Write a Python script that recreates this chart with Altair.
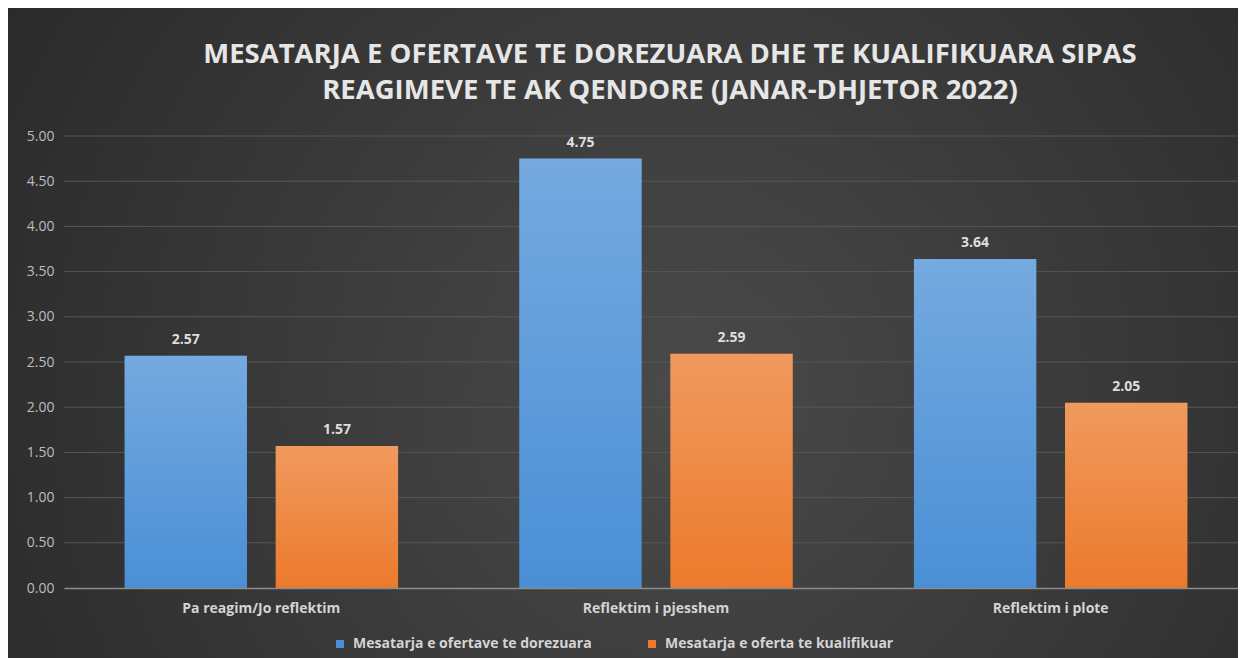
import altair as alt
import pandas as pd

# ---- data ----
categories = ["Pa reagim/Jo reflektim", "Reflektim i pjesshem", "Reflektim i plote"]
series_names = ["Mesatarja e ofertave te dorezuara", "Mesatarja e oferta te kualifikuar"]
submitted = [2.57, 4.75, 3.64]
qualified = [1.57, 2.59, 2.05]
y_ticks = [0.0, 0.5, 1.0, 1.5, 2.0, 2.5, 3.0, 3.5, 4.0, 4.5, 5.0]
title_lines = [
    "MESATARJA E OFERTAVE TE DOREZUARA DHE TE KUALIFIKUARA SIPAS",
    "REAGIMEVE TE AK QENDORE (JANAR-DHJETOR 2022)",
]
series_colors = ["#4a8fd6", "#ec7a2c"]

rows = []
for c, a, b in zip(categories, submitted, qualified):
    rows.append({"category": c, "series": series_names[0], "value": a})
    rows.append({"category": c, "series": series_names[1], "value": b})
df = pd.DataFrame(rows)
grid_df = pd.DataFrame({"value": y_ticks[1:]})

W, H = 1174, 452
PAD = {"left": 56, "top": 128, "right": 0, "bottom": 70}
FONT = "Open Sans"

y_scale = alt.Scale(domain=[0, 5], nice=False, zero=True)

x_enc = alt.X(
    "category:N",
    sort=categories,
    scale=alt.Scale(paddingInner=0.307, paddingOuter=0.1535, range=[0, 1184]),
    axis=alt.Axis(
        title=None, labelAngle=0, ticks=False, domainColor="#8c8c8c", domainWidth=1.5,
        labelPadding=13, labelFont=FONT, labelFontSize=14, labelFontWeight="bold",
        labelColor="#d4d4d4", zindex=1,
    ),
)
xo_enc = alt.XOffset(
    "series:N", sort=series_names, scale=alt.Scale(domain=series_names, paddingInner=0.19)
)
y_axis = alt.Axis(
    title=None, values=y_ticks, format=".2f", grid=False, domain=False, ticks=False,
    labelPadding=10, labelFont=FONT, labelFontSize=14, labelColor="#bdbdbd", zindex=1,
)
y_enc = alt.Y("value:Q", scale=y_scale, axis=y_axis)

radial = {
    "gradient": "radial",
    "x1": 0.55, "y1": 0.55, "r1": 0,
    "x2": 0.55, "y2": 0.55, "r2": 0.8,
    "stops": [
        {"offset": 0, "color": "#4a4a4a"},
        {"offset": 1, "color": "#222222"},
    ],
}
shine = {
    "gradient": "linear",
    "x1": 0, "y1": 0, "x2": 0, "y2": 1,
    "stops": [
        {"offset": 0, "color": "rgba(255,255,255,0.24)"},
        {"offset": 1, "color": "rgba(255,255,255,0.0)"},
    ],
}

bg = alt.Chart(pd.DataFrame({"bg": [0]})).mark_rect(fill=radial).encode(
    x=alt.value(-PAD["left"]), x2=alt.value(W + PAD["right"]),
    y=alt.value(-PAD["top"]), y2=alt.value(H + PAD["bottom"]),
)

grid = alt.Chart(grid_df).mark_rule(color="#575757", strokeWidth=1).encode(y=y_enc)

bars = alt.Chart(df).mark_bar().encode(
    x=x_enc,
    xOffset=xo_enc,
    y=y_enc,
    color=alt.Color(
        "series:N",
        scale=alt.Scale(domain=series_names, range=series_colors),
        legend=alt.Legend(
            title=None, orient="none", legendX=269, legendY=501, direction="horizontal",
            symbolType="square", symbolSize=64, symbolStrokeWidth=0,
            labelFont=FONT, labelFontSize=14, labelFontWeight="bold", labelColor="#d4d4d4",
            labelOffset=6, labelLimit=400, columnPadding=53, padding=0, zindex=1,
        ),
    ),
)

overlay = alt.Chart(df).mark_bar(fill=shine).encode(x=x_enc, xOffset=xo_enc, y=y_enc)

labels = alt.Chart(df).mark_text(
    font=FONT, fontSize=14, fontWeight="bold", color="#dedede", baseline="middle", dy=-16
).encode(x=x_enc, xOffset=xo_enc, y=y_enc, text=alt.Text("value:Q", format=".2f"))

chart = (
    alt.layer(bg, grid, bars, overlay, labels)
    .properties(
        width=W,
        height=H,
        title=alt.Title(
            text=title_lines, font=FONT, fontSize=27.5, fontWeight="bold", color="#e6e6e6",
            anchor="middle", frame="group", dx=19, offset=-96, lineHeight=36, zindex=1,
        ),
        autosize=alt.AutoSizeParams(type="none"),
        padding=PAD,
        background="#2b2b2b",
    )
    .configure_view(stroke=None)
)

chart.save("out.html", embed_options={"renderer": "svg", "actions": False})
